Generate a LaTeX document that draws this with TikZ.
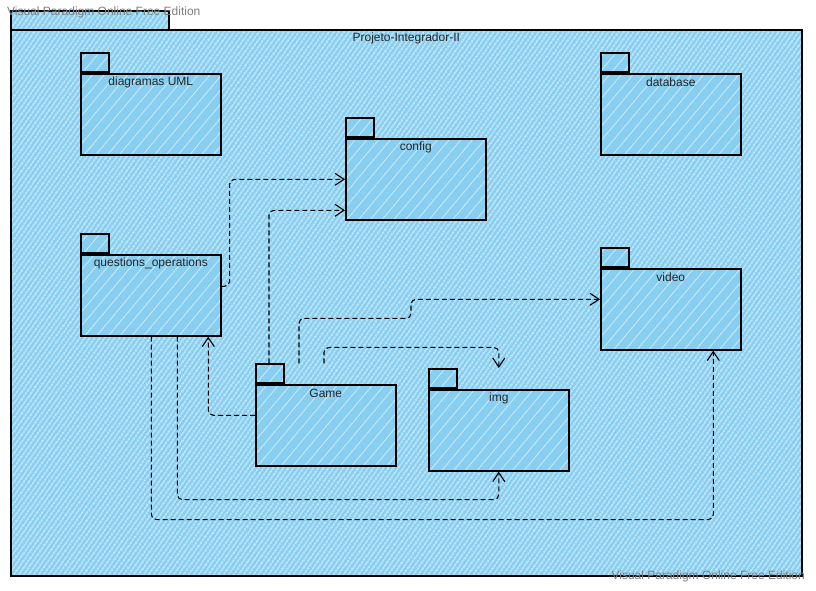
\documentclass[tikz,border=0pt]{standalone}
\usepackage{fontspec}
\setmainfont{Liberation Sans}
\usetikzlibrary{arrows.meta,patterns.meta,calc}
\definecolor{skyfill}{RGB}{135,206,240}
\definecolor{wmgray}{RGB}{125,125,125}
\begin{document}
\begin{tikzpicture}[x=1pt,y=-1pt,
  outerpat/.style={pattern={Lines[angle=55,distance=4pt,line width=1.3pt]},pattern color=white!72!skyfill},
  innerpat/.style={pattern={Lines[angle=50,distance=9pt,line width=0.9pt]},pattern color=white!55!skyfill},
  outerhatch/.style={preaction={fill=skyfill},outerpat},
  innerhatch/.style={preaction={fill=skyfill},innerpat},
  pkg/.style={draw=black,line width=1.6pt,innerhatch,minimum width=140pt,minimum height=81pt,inner sep=0pt,anchor=north west},
  pkgtab/.style={draw=black,line width=1.6pt,innerhatch,minimum width=28pt,minimum height=19pt,inner sep=0pt,anchor=south west},
  lbl/.style={font=\fontsize{12}{14}\selectfont,text=black!85,inner sep=0pt},
  wmk/.style={font=\fontsize{12}{14}\selectfont,text=wmgray,inner sep=0pt},
  dep/.style={draw=black,line width=1.1pt,dash pattern=on 5pt off 3pt,rounded corners=5pt,-{Straight Barb[length=9pt,width=12pt,line width=1.1pt]}}
]
\useasboundingbox (0,0) rectangle (816,591);
% instantiate patterns first (avoids line width leaking into the first shape)
\path[outerpat] (0,0) rectangle (0.01,0.01);
\path[innerpat] (0,0) rectangle (0.01,0.01);
% outer package
\node[draw=black,line width=1.6pt,outerhatch,minimum width=158pt,minimum height=19pt,inner sep=0pt,anchor=north west] (projtab) at (10,10) {};
\node[draw=black,line width=1.6pt,outerhatch,minimum width=791pt,minimum height=546pt,inner sep=0pt,anchor=north west] (proj) at (10,29) {};
\node[lbl] (projt) at ([yshift=-9pt]proj.north) {Projeto-Integrador-II};
% packages
\node[pkg] (diag) at (80,73) {};
\node[pkgtab] (diagtab) at (diag.north west) {};
\node[lbl] (diagt) at ([yshift=-9pt]diag.north) {diagramas UML};
\node[pkg] (db) at (600,73) {};
\node[pkgtab] (dbtab) at (db.north west) {};
\node[lbl] (dbt) at ([yshift=-9pt]db.north) {database};
\node[pkg] (cfg) at (345,138) {};
\node[pkgtab] (cfgtab) at (cfg.north west) {};
\node[lbl] (cfgt) at ([yshift=-9pt]cfg.north) {config};
\node[pkg] (qo) at (80,254) {};
\node[pkgtab] (qotab) at (qo.north west) {};
\node[lbl] (qot) at ([yshift=-9pt]qo.north) {questions\_operations};
\node[pkg] (vid) at (600,268) {};
\node[pkgtab] (vidtab) at (vid.north west) {};
\node[lbl] (vidt) at ([yshift=-9pt]vid.north) {video};
\node[pkg] (game) at (255,384) {};
\node[pkgtab] (gametab) at (game.north west) {};
\node[lbl] (gamet) at ([yshift=-9pt]game.north) {Game};
\node[pkg] (img) at (428,389) {};
\node[pkgtab] (imgtab) at (img.north west) {};
\node[lbl] (imgt) at ([yshift=-9pt]img.north) {img};
% dependency connectors
\coordinate (g1) at ([xshift=14pt]gametab.north west);
\coordinate (g2) at ([xshift=44pt]gametab.north west);
\coordinate (g3) at ([xshift=69pt]gametab.north west);
\draw[dep] ([yshift=9pt]qo.east) -- ++(8,0) |- (cfg.west);
\draw[dep] (g1) |- ([yshift=-31pt]cfg.west);
\draw[dep] (g2) -- ++(0,-45) -- ++(112,0) |- ([yshift=10pt]vid.west);
\draw[dep] (g3) -- ++(0,-16) -| ([yshift=21pt]img.north);
\draw[dep] ([yshift=10pt]game.west) -| ([xshift=57.5pt]qo.south);
\draw[dep] ([xshift=26.5pt]qo.south) -- ++(0,163) -| (img.south);
\draw[dep] ([xshift=0.5pt]qo.south) -- ++(0,183) -| ([xshift=42.5pt]vid.south);
% watermarks
\node[wmk,anchor=west] (wm1) at (7,12) {Visual Paradigm Online Free Edition};
\node[wmk,anchor=east] (wm2) at (805,576) {Visual Paradigm Online Free Edition};
\end{tikzpicture}
\end{document}
